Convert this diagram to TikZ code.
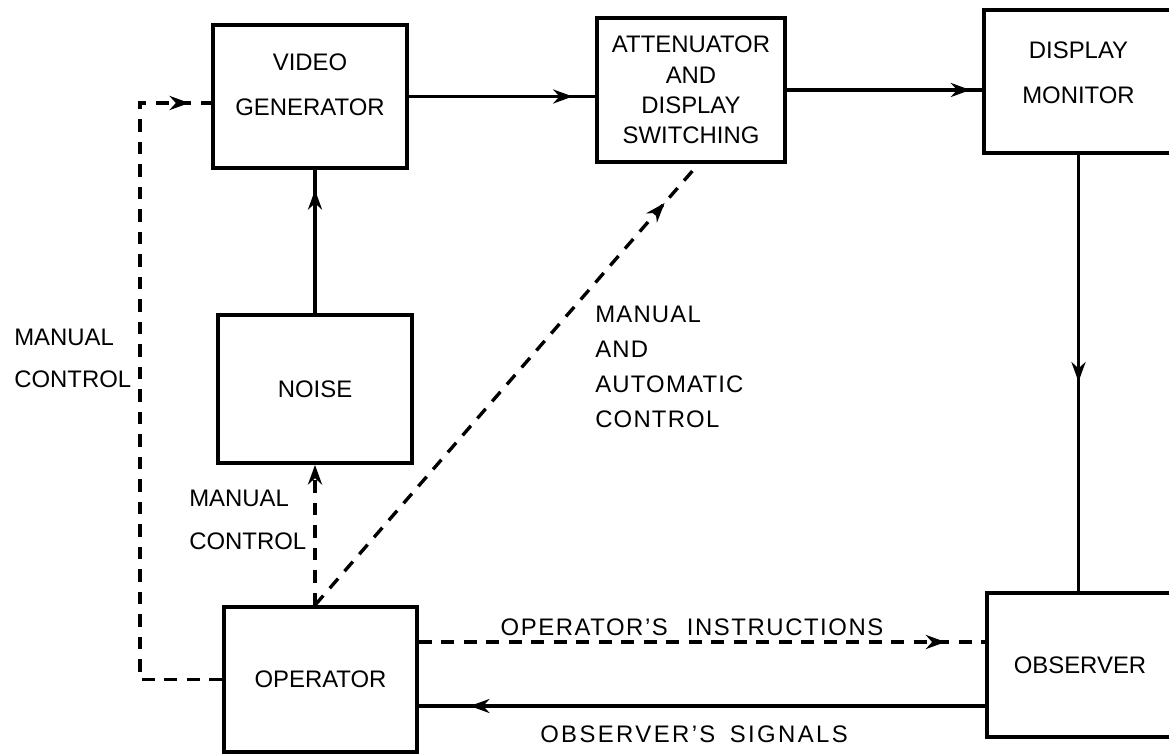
\documentclass[tikz,border=0pt]{standalone}
\usepackage{fontspec}
\setmainfont{Liberation Sans}
\usetikzlibrary{arrows.meta, decorations.markings}

\begin{document}
\begin{tikzpicture}[x=0.025cm, y=-0.025cm,
  font=\fontsize{17}{25}\selectfont,
  >={Stealth[length=14pt, width=10pt, inset=4.5pt]},
  box/.style={draw, line width=2.6pt, align=center, inner sep=0pt},
  flow/.style={line width=2.2pt},
  ctrl/.style={line width=2.4pt, dash pattern=on 9pt off 7pt},
  tipat/.style={postaction={decorate}, decoration={markings, mark=at position #1 with {\arrow{>}}}},
  lbl/.style={align=left, inner sep=0pt}]
\useasboundingbox (0,0) rectangle (1169,755);

\node[box, minimum width=4.85cm, minimum height=3.575cm, label={[lbl, align=center, yshift=8pt]center:{VIDEO\\[7pt]GENERATOR}}] (vg) at (310,96.5) {};
\node[box, minimum width=4.7cm, minimum height=3.6cm, font=\fontsize{17}{21.5}\selectfont] (att) at (691,90) {ATTENUATOR\\AND\\DISPLAY\\SWITCHING};
\node[box, minimum width=4.725cm, minimum height=3.575cm, label={[lbl, align=center, yshift=6pt]center:{DISPLAY\\[7pt]MONITOR}}] (dm) at (1078.5,81.5) {};
\node[box, minimum width=4.85cm, minimum height=3.7cm] (noise) at (315,389) {NOISE};
\node[box, minimum width=4.825cm, minimum height=3.625cm] (op) at (320.5,679.5) {OPERATOR};
\node[box, minimum width=4.65cm, minimum height=3.6cm] (obs) at (1080,665) {OBSERVER};

\node[lbl, anchor=west, font=\fontsize{17}{30}\selectfont] (mcleft) at (14,358) {MANUAL\\CONTROL};
\node[lbl, anchor=west, font=\fontsize{17}{31}\selectfont] (mcmid) at (189,520) {MANUAL\\CONTROL};
\node[lbl, anchor=west, font=\fontsize{17}{25}\selectfont\addfontfeatures{LetterSpace=5}] (macontrol) at (595,367) {MANUAL\\AND\\AUTOMATIC\\CONTROL};
\node[lbl, anchor=base, font=\fontsize{17}{25}\selectfont\addfontfeatures{LetterSpace=6.5}] (opinstr) at (692,635) {OPERATOR'S\hspace{0.8em}INSTRUCTIONS};
\node[lbl, anchor=base, font=\fontsize{17}{25}\selectfont\addfontfeatures{LetterSpace=10}] (obssig) at (694,742) {OBSERVER'S\hspace{0.6em}SIGNALS};

\coordinate (attin) at (695,168);
\coordinate (loopx) at (140,0);
\coordinate (vgin) at (vg.west |- 0,103);

\draw[flow, tipat=0.88] (vg.east) -- (vg.east -| att.west);
\draw[flow, tipat=0.94] (att.east) -- (att.east -| dm.west);
\draw[flow, tipat=0.52] (dm.south) -- (dm.south |- obs.north);
\draw[flow, tipat=0.86] (noise.north) -- (noise.north |- vg.south);
\draw[ctrl, ->] (op.north -| noise.north) -- (noise.south);
\draw[ctrl, tipat=0.92] (op.north -| noise.north) -- (attin);
\draw[ctrl, tipat=0.97] (op.west) -- (op.west -| loopx) -- (loopx |- vgin) -- (vgin);
\draw[ctrl, tipat=0.93] (op.east |- 0,642) -- (obs.west |- 0,642);
\draw[flow, tipat=0.91] (obs.west |- 0,706) -- (op.east |- 0,706);
\end{tikzpicture}
\end{document}
